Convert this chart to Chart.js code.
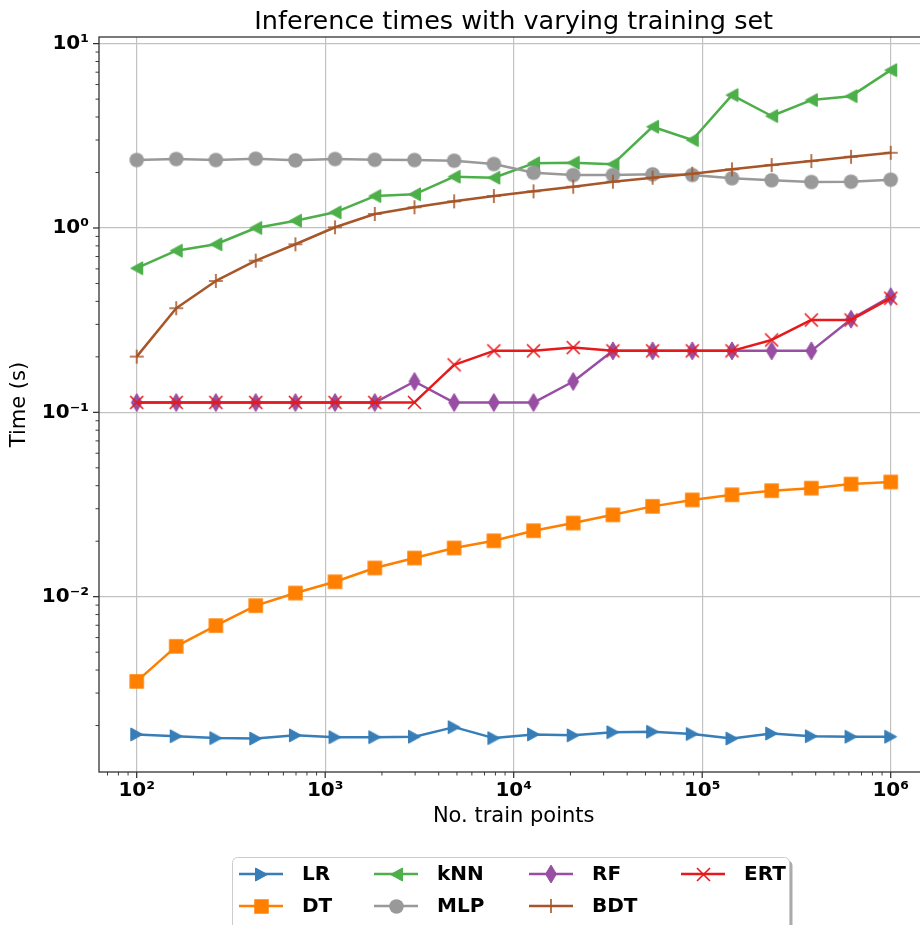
<!DOCTYPE html>
<html>
<head>
<meta charset="utf-8">
<title>Inference times with varying training set</title>
<script src="https://cdn.jsdelivr.net/npm/chart.js@4.4.1/dist/chart.umd.min.js"></script>
<style>
  html, body { margin: 0; padding: 0; background: #ffffff; overflow: hidden; width: 920px; height: 925px; }
  #wrap { position: relative; width: 940px; height: 925px; }
</style>
</head>
<body>
<div id="wrap"><canvas id="chart" width="940" height="925"></canvas></div>
<script>
// Training-set sizes (x axis)
const trainSizes = [100, 162, 263, 428, 695, 1128, 1832, 2976, 4832, 7847,
                    12742, 20691, 33598, 54555, 88586, 143844, 233572, 379269, 615848, 1000000];

// Inference time in seconds for each model
const timesLR  = [0.00179, 0.00175, 0.00171, 0.00170, 0.00177, 0.00173, 0.00173, 0.00174, 0.00196, 0.00171,
                  0.00179, 0.00177, 0.00184, 0.00185, 0.00180, 0.00170, 0.00181, 0.00175, 0.00174, 0.00174];
const timesDT  = [0.00347, 0.00538, 0.00697, 0.00894, 0.01047, 0.01205, 0.01431, 0.0162, 0.01837, 0.0201,
                  0.0228, 0.0251, 0.0278, 0.0309, 0.0335, 0.0357, 0.0376, 0.0388, 0.0408, 0.0419];
const timesKNN = [0.605, 0.753, 0.816, 1.0, 1.095, 1.216, 1.49, 1.523, 1.897, 1.874,
                  2.243, 2.26, 2.22, 3.54, 3.0, 5.26, 4.05, 4.94, 5.19, 7.18];
const timesMLP = [2.337, 2.366, 2.337, 2.375, 2.328, 2.366, 2.345, 2.337, 2.316, 2.223,
                  1.994, 1.938, 1.938, 1.955, 1.938, 1.86, 1.814, 1.775, 1.782, 1.827];
const timesRF  = [0.113, 0.113, 0.113, 0.113, 0.113, 0.113, 0.113, 0.147, 0.113, 0.113,
                  0.113, 0.147, 0.2155, 0.2155, 0.2155, 0.2155, 0.2155, 0.2155, 0.32, 0.424];
const timesBDT = [0.2006, 0.367, 0.516, 0.665, 0.816, 1.009, 1.191, 1.295, 1.395, 1.491,
                  1.581, 1.674, 1.782, 1.874, 1.97, 2.08, 2.195, 2.307, 2.434, 2.559];
const timesERT = [0.1132, 0.1132, 0.1132, 0.1132, 0.1132, 0.1132, 0.1132, 0.1132, 0.181, 0.2155,
                  0.2155, 0.2245, 0.2155, 0.2155, 0.2155, 0.2155, 0.247, 0.317, 0.317, 0.416];

// Decade tick exponents
const xTickExponents = [2, 3, 4, 5, 6];
const yTickExponents = [-2, -1, 0, 1];

const modelNames = ['LR', 'DT', 'kNN', 'MLP', 'RF', 'BDT', 'ERT'];

const FONT = "'DejaVu Sans', 'Liberation Sans', sans-serif";

// ---- marker images (matplotlib-like shapes) ----
function markerCanvas(kind, color, size) {
  const S = Math.ceil(size) + 6;
  const cv = document.createElement('canvas');
  cv.width = S; cv.height = S;
  const g = cv.getContext('2d');
  const c = S / 2, h = size / 2;
  g.fillStyle = color; g.strokeStyle = color; g.lineWidth = 1;
  g.lineJoin = 'miter';
  g.beginPath();
  switch (kind) {
    case 'triRight':
      g.moveTo(c + h * 0.92, c); g.lineTo(c - h * 0.92, c - h); g.lineTo(c - h * 0.92, c + h); g.closePath();
      g.fill(); g.stroke(); break;
    case 'triLeft':
      g.moveTo(c - h * 0.92, c); g.lineTo(c + h * 0.92, c - h); g.lineTo(c + h * 0.92, c + h); g.closePath();
      g.fill(); g.stroke(); break;
    case 'square':
      g.rect(c - h, c - h, size, size); g.fill(); break;
    case 'circle':
      g.arc(c, c, h, 0, Math.PI * 2); g.fill(); break;
    case 'thinDiamond':
      g.moveTo(c, c - h); g.lineTo(c + h * 0.6, c); g.lineTo(c, c + h); g.lineTo(c - h * 0.6, c); g.closePath();
      g.fill(); g.stroke(); break;
    case 'x':
      g.lineWidth = 1.6;
      g.moveTo(c - h, c - h); g.lineTo(c + h, c + h);
      g.moveTo(c + h, c - h); g.lineTo(c - h, c + h);
      g.stroke(); break;
    case 'plus':
      g.lineWidth = 1.6;
      g.moveTo(c - h, c); g.lineTo(c + h, c);
      g.moveTo(c, c - h); g.lineTo(c, c + h);
      g.stroke(); break;
  }
  return cv;
}

const seriesStyle = [
  { color: '#377eb8', marker: markerCanvas('triRight', '#377eb8', 13) },
  { color: '#ff7f00', marker: markerCanvas('square', '#ff7f00', 14.5) },
  { color: '#4daf4a', marker: markerCanvas('triLeft', '#4daf4a', 13) },
  { color: '#999999', marker: markerCanvas('circle', '#999999', 14.5) },
  { color: '#984ea3', marker: markerCanvas('thinDiamond', '#984ea3', 18) },
  { color: '#a65628', marker: markerCanvas('plus', '#a65628', 14) },
  { color: '#e41a1c', marker: markerCanvas('x', '#e41a1c', 13) }
];

const seriesValues = [timesLR, timesDT, timesKNN, timesMLP, timesRF, timesBDT, timesERT];

const datasets = modelNames.map((name, i) => ({
  label: name,
  data: trainSizes.map((n, k) => ({ x: n, y: seriesValues[i][k] })),
  borderColor: seriesStyle[i].color,
  backgroundColor: seriesStyle[i].color,
  borderWidth: 2.5,
  borderJoinStyle: 'round',
  pointStyle: seriesStyle[i].marker,
  pointRadius: 7,
  pointHoverRadius: 7,
  tension: 0,
  fill: false,
  order: modelNames.length - 1 - i
}));

const SUP = { '0': '⁰', '1': '¹', '2': '²', '3': '³', '4': '⁴', '5': '⁵',
              '6': '⁶', '7': '⁷', '8': '⁸', '9': '⁹', '-': '⁻' };
function powerLabel(v) {
  const e = Math.round(Math.log10(v));
  return '10' + String(e).split('').map(ch => SUP[ch]).join('');
}

// Spines, major/minor tick marks, title and legend box
const decorPlugin = {
  id: 'decor',
  afterDraw(chart) {
    const { ctx, chartArea: a, scales } = chart;
    const xs = scales.x, ys = scales.y;
    ctx.save();

    // tick marks
    ctx.strokeStyle = '#262626';
    for (let e = 1; e <= 6; e++) {
      for (let k = 1; k <= 9; k++) {
        const v = k * Math.pow(10, e);
        if (v < xs.min || v > xs.max) continue;
        const px = xs.getPixelForValue(v);
        ctx.lineWidth = k === 1 ? 1.2 : 0.9;
        const len = k === 1 ? 6 : 3.5;
        ctx.beginPath(); ctx.moveTo(px, a.bottom); ctx.lineTo(px, a.bottom + len); ctx.stroke();
      }
    }
    for (let e = -3; e <= 1; e++) {
      for (let k = 1; k <= 9; k++) {
        const v = k * Math.pow(10, e);
        if (v < ys.min || v > ys.max) continue;
        const py = ys.getPixelForValue(v);
        ctx.lineWidth = k === 1 ? 1.2 : 0.9;
        const len = k === 1 ? 6 : 3.5;
        ctx.beginPath(); ctx.moveTo(a.left, py); ctx.lineTo(a.left - len, py); ctx.stroke();
      }
    }

    // spines
    ctx.strokeStyle = '#333333';
    ctx.lineWidth = 1.3;
    ctx.strokeRect(a.left, a.top, a.right - a.left, a.bottom - a.top);

    // title
    ctx.fillStyle = '#000000';
    ctx.font = '25.5px ' + FONT;
    ctx.textAlign = 'center';
    ctx.textBaseline = 'alphabetic';
    ctx.fillText('Inference times with varying training set', (a.left + a.right) / 2, 29);

    // legend
    const bx = 232.5, by = 857.5, bw = 557, bh = 80, r = 5;
    ctx.fillStyle = 'rgba(0,0,0,0.33)';
    ctx.beginPath(); ctx.roundRect(bx + 3, by + 3, bw, bh, r); ctx.fill();
    ctx.fillStyle = '#ffffff';
    ctx.strokeStyle = '#cccccc';
    ctx.lineWidth = 1;
    ctx.beginPath(); ctx.roundRect(bx, by, bw, bh, r); ctx.fill(); ctx.stroke();

    const colX = [239, 374, 529, 681];
    const rowY = [874, 906];
    const handleLen = 44, textOff = 63;
    ctx.font = 'bold 20px ' + FONT;
    ctx.textAlign = 'left';
    ctx.textBaseline = 'middle';
    chart.data.datasets.forEach((ds, i) => {
      const col = Math.floor(i / 2), row = i % 2;
      const x0 = colX[col], y0 = rowY[row];
      ctx.strokeStyle = ds.borderColor;
      ctx.lineWidth = 2.5;
      ctx.beginPath(); ctx.moveTo(x0, y0); ctx.lineTo(x0 + handleLen, y0); ctx.stroke();
      const m = ds.pointStyle;
      ctx.drawImage(m, Math.round(x0 + handleLen / 2 - m.width / 2), Math.round(y0 - m.height / 2));
      ctx.fillStyle = '#000000';
      ctx.fillText(ds.label, x0 + textOff, y0 + 1);
    });
    ctx.restore();
  }
};

new Chart(document.getElementById('chart'), {
  type: 'line',
  data: { datasets },
  plugins: [decorPlugin],
  options: {
    responsive: false,
    animation: false,
    devicePixelRatio: 1,
    layout: { padding: { left: 0, top: 37, right: 11.6, bottom: 0 } },
    plugins: {
      legend: { display: false },
      title: { display: false },
      tooltip: { enabled: false }
    },
    scales: {
      x: {
        type: 'logarithmic',
        position: 'bottom',
        min: Math.pow(10, 1.8),
        max: Math.pow(10, 6.2),
        afterBuildTicks: s => { s.ticks = xTickExponents.map(e => ({ value: Math.pow(10, e), major: true })); },
        afterFit: s => { s.height = 153; },
        grid: { color: '#c2c2c2', lineWidth: 1.2, drawTicks: false },
        border: { display: false },
        ticks: {
          callback: powerLabel, autoSkip: false, maxRotation: 0, padding: 7,
          color: '#000000', font: { family: FONT, size: 20, weight: 'bold' }
        },
        title: {
          display: true, text: 'No. train points', color: '#000000',
          font: { family: FONT, size: 21 }, padding: { top: 0, bottom: 96 }
        }
      },
      y: {
        type: 'logarithmic',
        position: 'left',
        min: Math.pow(10, -2.951),
        max: Math.pow(10, 1.036),
        afterBuildTicks: s => { s.ticks = yTickExponents.map(e => ({ value: Math.pow(10, e), major: true })); },
        afterFit: s => { s.width = 99; },
        grid: { color: '#c2c2c2', lineWidth: 1.2, drawTicks: false },
        border: { display: false },
        ticks: {
          callback: powerLabel, autoSkip: false, padding: 10,
          color: '#000000', font: { family: FONT, size: 20, weight: 'bold' }
        },
        title: {
          display: true, text: 'Time (s)', color: '#000000',
          font: { family: FONT, size: 21 }, padding: { top: 7.4, bottom: 0 }
        }
      }
    }
  }
});
</script>
</body>
</html>
